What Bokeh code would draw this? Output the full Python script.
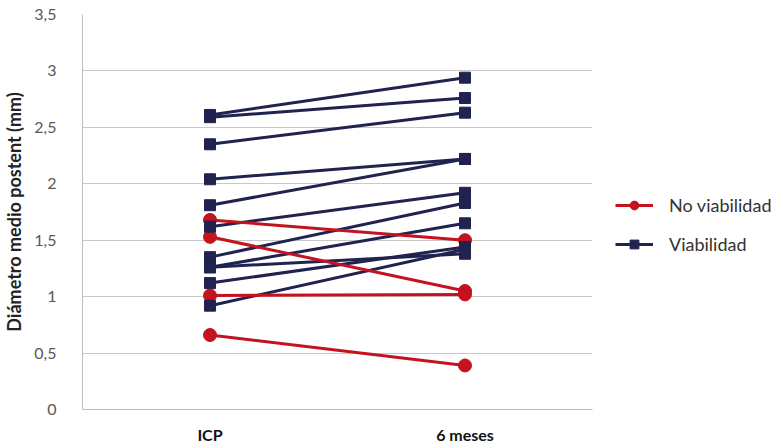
from bokeh.plotting import figure
from bokeh.models import FactorRange, Range1d, FixedTicker, Legend, LegendItem, ColumnDataSource
from bokeh.embed import file_html
from bokeh.resources import INLINE

# Data
categories = ["ICP", "6 meses"]
no_viab_icp = [1.68, 1.53, 1.01, 0.66]
no_viab_6m = [1.50, 1.05, 1.02, 0.39]
viab_icp = [2.61, 2.59, 2.35, 2.04, 1.81, 1.62, 1.35, 1.26, 1.26, 1.12, 0.92]
viab_6m = [2.94, 2.76, 2.63, 2.22, 2.22, 1.92, 1.83, 1.65, 1.38, 1.44, 1.42]
y_ticks = [0, 0.5, 1, 1.5, 2, 2.5, 3, 3.5]
y_tick_labels = ["0", "0,5", "1", "1,5", "2", "2,5", "3", "3,5"]

RED = "#c4121f"
NAVY = "#20224f"
FONT = "Lato"

p = figure(frame_width=510, frame_height=395, x_range=FactorRange(*categories),
           y_range=Range1d(0, 3.5), output_backend="svg", toolbar_location=None,
           min_border_left=80, min_border_right=192, min_border_top=14, min_border_bottom=38)
p.outline_line_color = None
p.background_fill_color = "white"
p.border_fill_color = "white"

def mk_sources(a, b):
    lines = ColumnDataSource(dict(xs=[[categories[0], categories[1]] for _ in a],
                                  ys=[[u, v] for u, v in zip(a, b)]))
    pts = ColumnDataSource(dict(x=[categories[0]] * len(a) + [categories[1]] * len(b),
                                y=list(a) + list(b)))
    return lines, pts

vl, vp = mk_sources(viab_icp, viab_6m)
nl, npnt = mk_sources(no_viab_icp, no_viab_6m)

r_vl = p.multi_line("xs", "ys", source=vl, line_color=NAVY, line_width=3)
r_nl = p.multi_line("xs", "ys", source=nl, line_color=RED, line_width=3)
r_np = p.scatter("x", "y", source=npnt, marker="circle", size=13, fill_color=RED, line_color=RED)
r_vp = p.scatter("x", "y", source=vp, marker="square", size=11, fill_color=NAVY, line_color=NAVY)

legend = Legend(items=[LegendItem(label="No viabilidad", renderers=[r_nl, r_np]),
                       LegendItem(label="Viabilidad", renderers=[r_vl, r_vp])],
                location=(23, 154), orientation="vertical")
legend.border_line_color = None
legend.background_fill_alpha = 0
legend.glyph_width = 38
legend.glyph_height = 22
legend.label_height = 22
legend.label_standoff = 16
legend.spacing = 17
legend.padding = 0
legend.margin = 0
legend.label_text_font = FONT
legend.label_text_font_size = "18px"
legend.label_text_color = "#333333"
p.add_layout(legend, "right")

# Axes
p.yaxis.ticker = FixedTicker(ticks=y_ticks)
p.yaxis.major_label_overrides = {t: l for t, l in zip(y_ticks, y_tick_labels)}
p.yaxis.major_tick_line_color = None
p.yaxis.minor_tick_line_color = None
p.yaxis.major_label_standoff = 20
p.yaxis.major_label_text_font = FONT
p.yaxis.major_label_text_font_size = "16px"
p.yaxis.major_label_text_color = "#595959"
p.yaxis.axis_line_color = "#bfbfbf"
p.yaxis.axis_label = "Diámetro medio postent (mm)"
p.yaxis.axis_label_text_font = FONT
p.yaxis.axis_label_text_font_style = "bold"
p.yaxis.axis_label_text_font_size = "18px"
p.yaxis.axis_label_text_color = "#222222"
p.yaxis.axis_label_standoff = 6

p.xaxis.major_tick_line_color = None
p.xaxis.minor_tick_line_color = None
p.xaxis.axis_line_color = "#bfbfbf"
p.xaxis.major_label_standoff = 9
p.xaxis.major_label_text_font = FONT
p.xaxis.major_label_text_font_style = "bold"
p.xaxis.major_label_text_font_size = "16px"
p.xaxis.major_label_text_color = "#111111"

p.xgrid.grid_line_color = None
p.ygrid.ticker = FixedTicker(ticks=y_ticks)
p.ygrid.grid_line_color = "#c8c8c8"
p.ygrid.grid_line_width = 1

open("out.html", "w").write(file_html(p, INLINE))
